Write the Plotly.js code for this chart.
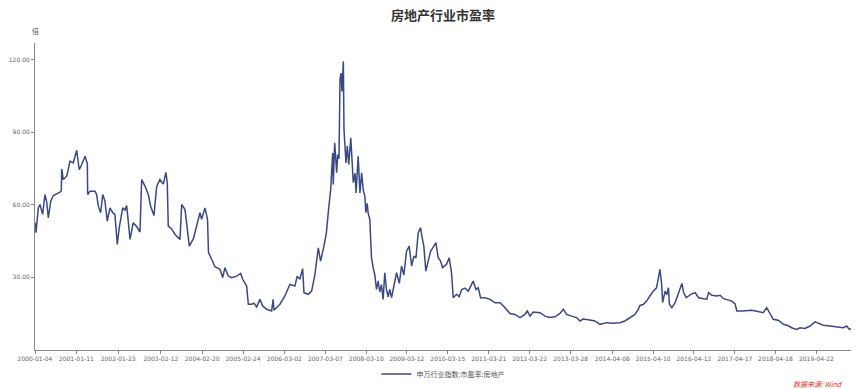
<!DOCTYPE html>
<html>
<head>
<meta charset="utf-8">
<script src="https://cdn.plot.ly/plotly-3.0.1.min.js"></script>
<style>html,body{margin:0;padding:0;background:#fff;}#chart{width:865px;height:389px;}</style>
</head>
<body>
<div id="chart"></div>
<script>
const seriesName = "申万行业指数:市盈率:房地产";
const dates = [
"2000-01-04","2000-01-13","2000-02-03","2000-02-18","2000-03-13","2000-04-03","2000-04-19","2000-05-03","2000-05-25","2000-06-17",
"2000-08-16","2000-08-28","2000-09-01","2000-09-15","2000-10-16","2000-11-15","2000-12-14","2001-01-14","2001-02-06","2001-02-28",
"2001-03-30","2001-04-20","2001-04-23","2001-05-14","2001-06-28","2001-07-13","2001-07-28","2001-08-18","2001-09-06","2001-09-26",
"2001-10-17","2001-11-10","2001-12-05","2001-12-25","2002-01-15","2002-02-02","2002-03-05","2002-03-26","2002-04-10","2002-05-10",
"2002-06-08","2002-07-09","2002-08-08","2002-08-23","2002-09-22","2002-10-22","2002-11-12","2002-12-12","2003-01-06","2003-02-04",
"2003-03-06","2003-03-30","2003-04-11","2003-04-20","2003-05-20","2003-06-20","2003-08-04","2003-08-19","2003-09-18","2003-10-08",
"2003-10-27","2003-12-03","2004-01-02","2004-01-31","2004-02-15","2004-03-16","2004-04-08","2004-04-17","2004-05-16","2004-06-14",
"2004-07-29","2004-08-23","2004-09-12","2004-10-12","2004-11-12","2004-12-27","2005-02-01","2005-02-19","2005-03-27","2005-04-11",
"2005-05-11","2005-06-01","2005-06-25","2005-07-25","2005-08-18","2005-09-23","2005-11-07","2005-11-21","2005-11-28","2006-01-21",
"2006-03-07","2006-04-21","2006-06-05","2006-06-26","2006-07-20","2006-08-14","2006-08-26","2006-10-04","2006-11-03","2006-12-03",
"2007-01-02","2007-01-23","2007-02-22","2007-03-16","2007-04-02","2007-04-24","2007-05-12","2007-05-17","2007-05-30","2007-06-11",
"2007-06-17","2007-06-26","2007-07-08","2007-07-17","2007-07-26","2007-08-04","2007-08-16","2007-08-22","2007-08-31","2007-09-09",
"2007-09-21","2007-10-04","2007-10-22","2007-10-31","2007-11-14","2007-11-30","2007-12-09","2007-12-28","2008-01-13","2008-01-28",
"2008-02-12","2008-02-26","2008-03-06","2008-03-18","2008-03-27","2008-04-11","2008-04-17","2008-04-26","2008-05-11","2008-05-26",
"2008-06-10","2008-06-25","2008-07-10","2008-07-25","2008-08-09","2008-08-24","2008-09-08","2008-09-23","2008-10-08","2008-10-24",
"2008-11-23","2008-12-08","2009-01-02","2009-01-22","2009-02-12","2009-03-08","2009-04-01","2009-04-23","2009-05-14","2009-06-01",
"2009-06-21","2009-07-12","2009-07-30","2009-08-11","2009-08-29","2009-09-19","2009-10-11","2009-11-04","2009-11-28","2009-12-19",
"2010-01-09","2010-01-27","2010-03-04","2010-03-28","2010-04-18","2010-05-03","2010-06-03","2010-06-26","2010-07-18","2010-08-17",
"2010-09-16","2010-10-08","2010-10-30","2010-11-24","2010-12-15","2011-01-05","2011-02-14","2011-03-31","2011-05-15","2011-06-30",
"2011-07-30","2011-09-27","2011-11-11","2011-12-26","2012-02-09","2012-03-01","2012-03-26","2012-04-24","2012-06-24","2012-08-08",
"2012-09-22","2012-11-06","2012-12-21","2013-01-20","2013-02-19","2013-04-05","2013-05-20","2013-06-19","2013-07-19","2013-09-17",
"2013-11-01","2013-12-16","2014-02-15","2014-04-16","2014-06-15","2014-07-30","2014-09-13","2014-10-28","2014-11-27","2014-12-12",
"2015-01-11","2015-02-10","2015-03-12","2015-04-11","2015-05-11","2015-05-26","2015-06-11","2015-06-26","2015-07-05","2015-07-27",
"2015-08-11","2015-08-26","2015-09-04","2015-09-26","2015-10-26","2015-11-16","2015-12-04","2015-12-26","2016-01-10","2016-02-03",
"2016-02-24","2016-03-15","2016-04-24","2016-05-24","2016-07-08","2016-08-07","2016-08-22","2016-09-21","2016-11-05","2016-12-05",
"2017-01-04","2017-02-03","2017-03-20","2017-04-19","2017-05-04","2017-06-18","2017-08-02","2017-09-16","2017-10-31","2017-12-29",
"2018-01-28","2018-02-27","2018-03-29","2018-05-13","2018-06-28","2018-08-12","2018-09-11","2018-10-26","2018-11-25","2019-01-09",
"2019-02-23","2019-04-09","2019-05-09","2019-06-23","2019-08-22","2019-10-22","2019-12-21","2020-01-20","2020-02-13","2020-02-28"
];
const peValues = [
52.7,48.5,58.7,60.1,56.0,64.2,61.0,54.6,61.5,63.8,
65.2,65.8,74.8,70.4,71.8,78.0,77.3,82.5,74.5,76.5,
80.0,77.0,64.2,65.6,65.6,64.2,59.4,56.7,64.2,61.5,
53.2,58.7,56.7,56.0,43.6,50.5,58.7,57.8,59.7,45.7,
52.6,51.0,48.7,70.4,67.7,64.2,59.4,55.6,67.7,70.4,
68.5,73.4,69.0,51.2,50.0,47.7,45.7,60.1,58.0,51.0,
42.9,46.0,51.2,56.7,54.0,58.7,54.0,40.2,37.4,34.4,
33.3,29.9,34.0,30.6,29.9,30.5,31.6,29.2,26.4,18.9,
18.9,19.3,17.8,20.9,18.2,16.8,16.1,20.9,16.4,18.9,
22.3,27.1,26.4,30.5,29.2,33.6,23.7,23.0,24.3,31.2,
42.2,36.7,42.9,48.4,56.7,66.3,81.4,68.4,85.6,75.9,
73.2,80.7,79.0,111.7,114.4,106.8,119.2,91.0,84.2,77.3,
84.2,76.6,87.6,80.0,69.1,73.0,64.9,80.0,64.9,73.2,
66.0,63.5,56.7,60.6,56.5,53.9,44.3,38.1,34.0,31.0,
25.0,28.5,24.0,27.0,20.9,31.9,25.0,22.0,25.0,21.6,
28.5,31.9,27.5,34.7,31.0,40.8,42.9,34.7,38.8,38.0,
48.4,50.5,45.7,43.0,32.6,37.0,40.8,42.5,44.3,38.1,
36.7,34.0,35.4,38.1,31.9,21.6,23.0,22.0,25.0,25.6,
24.3,26.4,28.5,25.0,25.7,21.6,21.6,20.9,19.5,19.5,
18.2,15.1,14.7,13.4,14.7,16.1,14.0,15.7,15.4,14.0,
13.4,13.7,15.1,16.8,14.7,14.0,13.4,12.0,12.8,12.4,
12.0,10.6,11.3,11.0,11.3,12.0,13.4,14.7,16.8,18.4,
18.8,20.2,22.3,24.3,25.7,29.2,33.3,27.1,19.6,24.3,
22.8,25.7,18.9,17.5,19.6,22.3,24.3,27.5,23.7,21.6,
22.3,23.0,23.7,21.6,21.2,21.0,23.7,22.6,22.3,22.6,
21.2,20.9,20.2,19.0,16.1,16.1,16.1,16.4,16.0,15.4,
17.5,15.2,12.7,12.3,10.6,10.0,9.2,8.5,9.2,8.9,
9.9,11.6,11.0,10.2,9.9,9.6,9.2,9.9,8.5,8.8
];
const xTickDates = ["2000-01-04","2001-01-11","2002-01-23","2003-02-12","2004-02-20","2005-02-24","2006-03-02","2007-03-07","2008-03-10","2009-03-12","2010-03-15","2011-03-21","2012-03-22","2013-03-28","2014-04-08","2015-04-10","2016-04-12","2017-04-17","2018-04-18","2019-04-22"];
const yTickVals = [30, 60, 90, 120];

const cjk = "'Noto Sans CJK SC', 'Noto Sans', sans-serif";
const num = "'DejaVu Sans', sans-serif";
const trace = {
  x: dates, y: peValues, type: "scatter", mode: "lines", name: seriesName,
  line: {color: "#3a4984", width: 1.5}
};
const layout = {
  width: 865, height: 389,
  margin: {l: 35, r: 14, t: 43, b: 39},
  paper_bgcolor: "#fff", plot_bgcolor: "#fff",
  font: {family: cjk, color: "#666", size: 7},
  title: {text: "<b>房地产行业市盈率</b>", font: {family: cjk, size: 13, color: "#333"},
          x: 0.5, xanchor: "center", xref: "paper", y: 0.959, yanchor: "middle", yref: "container"},
  showlegend: true,
  legend: {orientation: "h", x: 0.5, xanchor: "center", xref: "paper", y: 0.0386, yanchor: "middle", yref: "container",
           bgcolor: "rgba(0,0,0,0)", font: {family: cjk, size: 7, color: "#555"}},
  xaxis: {type: "date", range: ["2000-01-04", "2020-02-28"], showgrid: false, zeroline: false, automargin: false,
          showline: true, linecolor: "#888", linewidth: 1, ticks: "outside", ticklen: 3, tickcolor: "#888",
          tickvals: xTickDates, ticktext: xTickDates, tickangle: 0,
          tickfont: {family: num, size: 6, color: "#666"}},
  yaxis: {range: [0, 126.8], showgrid: false, zeroline: false, showline: true, linecolor: "#888", linewidth: 1, automargin: false,
          ticks: "outside", ticklen: 3, tickcolor: "#888", tickvals: yTickVals, tickformat: ".2f",
          tickfont: {family: num, size: 6, color: "#666"}},
  annotations: [
    {text: "倍", xref: "paper", yref: "paper", x: 0, y: 1, xanchor: "center", yanchor: "bottom", yshift: 5,
     showarrow: false, font: {family: cjk, size: 7, color: "#555"}},
    {text: "<i>数据来源: Wind</i>", xref: "paper", yref: "paper", x: 0.993, y: -0.1107, xanchor: "right", yanchor: "middle",
     showarrow: false, font: {family: cjk, size: 7, color: "#e0302a"}}
  ]
};
Plotly.newPlot("chart", [trace], layout, {displayModeBar: false, staticPlot: true});
</script>
</body>
</html>
